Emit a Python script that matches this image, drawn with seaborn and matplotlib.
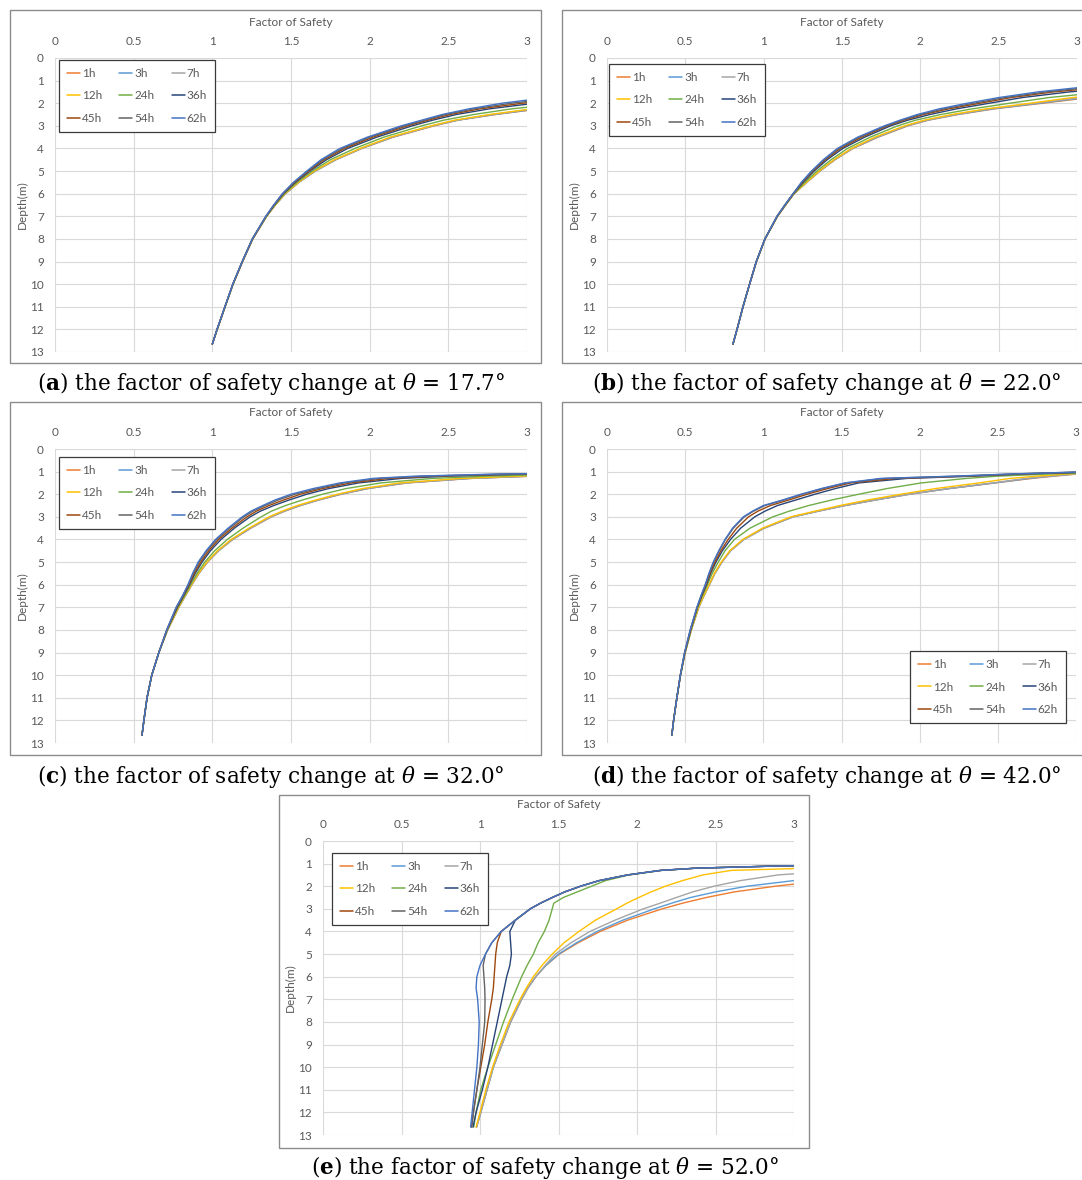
import numpy as np
import pandas as pd
import matplotlib
matplotlib.use("Agg")
import matplotlib.pyplot as plt
from matplotlib.lines import Line2D
from matplotlib.patches import Rectangle
from matplotlib.ticker import FuncFormatter
import seaborn as sns

# ---------------------------------------------------------------------------
# Data: factor of safety vs depth for each rainfall duration
# ---------------------------------------------------------------------------
HOURS = ["1h", "3h", "7h", "12h", "24h", "36h", "45h", "54h", "62h"]
COLORS = ["#ED7D31", "#5B9BD5", "#A5A5A5", "#FFC000", "#70AD47",
          "#264478", "#9E480E", "#636363", "#4472C4"]

DEPTH = [1.0, 1.1, 1.2, 1.3, 1.5, 1.75, 2.0, 2.25, 2.5, 2.75, 3.0, 3.5, 4.0,
         4.5, 5.0, 5.5, 6.0, 6.5, 7.0, 8.0, 9.0, 10.0, 11.0, 12.0, 12.65]

ANGLES = ["17.7", "22.0", "32.0", "42.0", "52.0"]

# slope angle 17.7 deg
FS_A = [
    [6.5, 6.1, 5.7, 5.35, 4.7, 4.0, 3.48, 3.08, 2.8, 2.56, 2.41, 2.15, 1.95, 1.785, 1.655, 1.55, 1.465, 1.40, 1.345, 1.257, 1.192, 1.132, 1.081, 1.031, 1.0],
    [6.5, 6.1, 5.7, 5.35, 4.7, 4.0, 3.47, 3.07, 2.79, 2.56, 2.40, 2.145, 1.948, 1.783, 1.655, 1.55, 1.465, 1.40, 1.345, 1.257, 1.192, 1.132, 1.081, 1.031, 1.0],
    [6.4, 6.0, 5.6, 5.3, 4.65, 3.95, 3.45, 3.05, 2.78, 2.55, 2.40, 2.14, 1.945, 1.78, 1.65, 1.548, 1.463, 1.40, 1.345, 1.257, 1.192, 1.132, 1.081, 1.031, 1.0],
    [6.3, 5.9, 5.5, 5.2, 4.6, 3.9, 3.42, 3.03, 2.76, 2.54, 2.39, 2.13, 1.94, 1.775, 1.648, 1.546, 1.462, 1.40, 1.345, 1.257, 1.192, 1.132, 1.081, 1.031, 1.0],
    [5.9, 5.5, 5.2, 4.9, 4.3, 3.65, 3.25, 2.90, 2.66, 2.47, 2.33, 2.09, 1.905, 1.75, 1.635, 1.537, 1.457, 1.397, 1.343, 1.256, 1.191, 1.131, 1.081, 1.031, 1.0],
    [5.4, 5.1, 4.8, 4.5, 4.0, 3.42, 3.05, 2.76, 2.55, 2.40, 2.27, 2.045, 1.86, 1.725, 1.62, 1.528, 1.452, 1.394, 1.342, 1.255, 1.191, 1.131, 1.08, 1.03, 1.0],
    [5.2, 4.9, 4.6, 4.3, 3.85, 3.32, 2.97, 2.70, 2.51, 2.37, 2.24, 2.02, 1.84, 1.71, 1.612, 1.523, 1.449, 1.392, 1.341, 1.255, 1.19, 1.13, 1.08, 1.03, 1.0],
    [5.0, 4.7, 4.4, 4.1, 3.65, 3.22, 2.90, 2.66, 2.48, 2.35, 2.22, 2.0, 1.825, 1.70, 1.605, 1.518, 1.447, 1.391, 1.34, 1.254, 1.19, 1.13, 1.08, 1.03, 1.0],
    [4.8, 4.45, 4.15, 3.9, 3.5, 3.13, 2.84, 2.63, 2.46, 2.33, 2.20, 1.985, 1.81, 1.69, 1.60, 1.515, 1.445, 1.39, 1.34, 1.254, 1.19, 1.13, 1.08, 1.03, 1.0],
]

# slope angle 22.0 deg
FS_B = [
    [5.0, 4.6, 4.3, 4.0, 3.55, 3.08, 2.78, 2.47, 2.24, 2.05, 1.92, 1.73, 1.57, 1.455, 1.36, 1.275, 1.195, 1.14, 1.088, 1.009, 0.954, 0.91, 0.868, 0.83, 0.804],
    [4.95, 4.55, 4.25, 3.95, 3.5, 3.05, 2.76, 2.46, 2.23, 2.045, 1.915, 1.725, 1.567, 1.453, 1.358, 1.274, 1.195, 1.14, 1.088, 1.009, 0.954, 0.91, 0.868, 0.83, 0.804],
    [4.9, 4.5, 4.2, 3.9, 3.45, 3.02, 2.74, 2.44, 2.22, 2.04, 1.91, 1.72, 1.565, 1.451, 1.356, 1.273, 1.194, 1.14, 1.088, 1.009, 0.954, 0.91, 0.868, 0.83, 0.804],
    [4.8, 4.4, 4.1, 3.82, 3.38, 2.97, 2.70, 2.42, 2.20, 2.025, 1.90, 1.71, 1.56, 1.448, 1.354, 1.272, 1.194, 1.14, 1.088, 1.009, 0.954, 0.91, 0.868, 0.83, 0.804],
    [4.5, 4.15, 3.85, 3.6, 3.18, 2.82, 2.57, 2.33, 2.13, 1.97, 1.855, 1.68, 1.535, 1.43, 1.34, 1.262, 1.192, 1.139, 1.087, 1.009, 0.954, 0.91, 0.868, 0.83, 0.804],
    [4.2, 3.85, 3.55, 3.3, 2.95, 2.65, 2.44, 2.23, 2.06, 1.92, 1.81, 1.645, 1.505, 1.405, 1.322, 1.252, 1.19, 1.137, 1.086, 1.008, 0.953, 0.91, 0.868, 0.83, 0.804],
    [4.05, 3.7, 3.4, 3.16, 2.85, 2.58, 2.38, 2.18, 2.02, 1.895, 1.79, 1.625, 1.49, 1.393, 1.314, 1.247, 1.189, 1.136, 1.086, 1.008, 0.953, 0.91, 0.868, 0.83, 0.804],
    [3.95, 3.6, 3.3, 3.08, 2.8, 2.54, 2.34, 2.15, 2.0, 1.88, 1.78, 1.61, 1.48, 1.386, 1.309, 1.243, 1.188, 1.135, 1.085, 1.008, 0.953, 0.91, 0.868, 0.83, 0.804],
    [3.9, 3.55, 3.25, 3.02, 2.75, 2.5, 2.3, 2.12, 1.98, 1.87, 1.77, 1.6, 1.47, 1.38, 1.305, 1.24, 1.188, 1.135, 1.085, 1.008, 0.953, 0.91, 0.868, 0.83, 0.804],
]

# slope angle 32.0 deg
FS_C = [
    [5.5, 3.6, 3.05, 2.65, 2.24, 1.99, 1.82, 1.68, 1.56, 1.46, 1.375, 1.245, 1.13, 1.04, 0.97, 0.915, 0.87, 0.828, 0.787, 0.716, 0.66, 0.615, 0.585, 0.565, 0.553],
    [5.45, 3.58, 3.03, 2.64, 2.23, 1.985, 1.815, 1.676, 1.556, 1.457, 1.372, 1.243, 1.128, 1.039, 0.969, 0.914, 0.869, 0.828, 0.787, 0.716, 0.66, 0.615, 0.585, 0.565, 0.553],
    [5.4, 3.55, 3.0, 2.62, 2.22, 1.975, 1.81, 1.672, 1.552, 1.454, 1.37, 1.241, 1.126, 1.037, 0.968, 0.913, 0.869, 0.827, 0.786, 0.716, 0.66, 0.615, 0.585, 0.565, 0.553],
    [5.3, 3.5, 2.95, 2.58, 2.19, 1.955, 1.795, 1.66, 1.54, 1.443, 1.36, 1.233, 1.12, 1.033, 0.965, 0.911, 0.868, 0.826, 0.786, 0.715, 0.66, 0.615, 0.585, 0.565, 0.553],
    [5.0, 3.3, 2.75, 2.4, 2.07, 1.85, 1.70, 1.575, 1.465, 1.375, 1.31, 1.195, 1.095, 1.015, 0.952, 0.903, 0.862, 0.822, 0.781, 0.713, 0.66, 0.615, 0.585, 0.565, 0.553],
    [4.8, 3.05, 2.5, 2.2, 1.93, 1.74, 1.6, 1.49, 1.39, 1.305, 1.24, 1.14, 1.055, 0.988, 0.935, 0.891, 0.855, 0.817, 0.777, 0.712, 0.66, 0.615, 0.585, 0.565, 0.553],
    [4.7, 2.97, 2.42, 2.12, 1.88, 1.70, 1.56, 1.455, 1.36, 1.28, 1.22, 1.125, 1.04, 0.977, 0.926, 0.885, 0.851, 0.814, 0.774, 0.711, 0.66, 0.615, 0.585, 0.565, 0.553],
    [4.6, 2.9, 2.35, 2.06, 1.84, 1.67, 1.525, 1.42, 1.335, 1.258, 1.2, 1.11, 1.028, 0.966, 0.916, 0.878, 0.847, 0.811, 0.771, 0.71, 0.66, 0.615, 0.585, 0.565, 0.553],
    [4.5, 2.85, 2.29, 2.02, 1.81, 1.64, 1.50, 1.40, 1.32, 1.245, 1.19, 1.10, 1.02, 0.96, 0.91, 0.875, 0.845, 0.81, 0.77, 0.71, 0.66, 0.615, 0.585, 0.565, 0.553],
]

# slope angle 42.0 deg
FS_D = [
    [3.55, 3.02, 2.86, 2.72, 2.48, 2.19, 1.93, 1.72, 1.52, 1.35, 1.19, 1.005, 0.875, 0.79, 0.735, 0.69, 0.655, 0.619, 0.587, 0.539, 0.5, 0.47, 0.447, 0.426, 0.415],
    [3.5, 3.0, 2.84, 2.7, 2.48, 2.19, 1.93, 1.72, 1.52, 1.35, 1.19, 1.005, 0.875, 0.79, 0.735, 0.69, 0.655, 0.619, 0.587, 0.539, 0.5, 0.47, 0.447, 0.426, 0.415],
    [3.5, 3.0, 2.83, 2.68, 2.47, 2.18, 1.94, 1.72, 1.525, 1.35, 1.19, 1.005, 0.875, 0.79, 0.735, 0.69, 0.655, 0.619, 0.587, 0.539, 0.5, 0.47, 0.447, 0.426, 0.415],
    [3.45, 2.95, 2.75, 2.58, 2.38, 2.1, 1.88, 1.67, 1.49, 1.33, 1.175, 0.995, 0.868, 0.785, 0.731, 0.687, 0.653, 0.618, 0.586, 0.539, 0.5, 0.47, 0.447, 0.426, 0.415],
    [3.3, 2.85, 2.5, 2.3, 2.01, 1.79, 1.61, 1.44, 1.29, 1.165, 1.06, 0.915, 0.815, 0.755, 0.712, 0.673, 0.642, 0.61, 0.581, 0.537, 0.499, 0.47, 0.447, 0.426, 0.415],
    [3.2, 2.68, 2.35, 1.92, 1.61, 1.46, 1.33, 1.21, 1.09, 1.01, 0.945, 0.855, 0.79, 0.738, 0.697, 0.663, 0.636, 0.606, 0.578, 0.535, 0.498, 0.47, 0.447, 0.426, 0.415],
    [3.15, 2.65, 2.3, 1.85, 1.56, 1.41, 1.28, 1.165, 1.045, 0.965, 0.905, 0.83, 0.775, 0.728, 0.69, 0.659, 0.633, 0.604, 0.577, 0.534, 0.497, 0.469, 0.447, 0.426, 0.415],
    [3.12, 2.62, 2.25, 1.78, 1.53, 1.38, 1.25, 1.135, 1.01, 0.937, 0.878, 0.808, 0.758, 0.717, 0.682, 0.654, 0.63, 0.602, 0.576, 0.533, 0.497, 0.469, 0.447, 0.426, 0.415],
    [3.1, 2.6, 2.22, 1.75, 1.52, 1.37, 1.24, 1.125, 1.0, 0.93, 0.872, 0.803, 0.755, 0.715, 0.68, 0.652, 0.628, 0.60, 0.575, 0.532, 0.496, 0.469, 0.447, 0.426, 0.415],
]

# slope angle 52.0 deg
FS_E = [
    [6.8, 5.7, 5.0, 4.5, 3.8, 3.2, 2.88, 2.62, 2.44, 2.29, 2.16, 1.94, 1.765, 1.625, 1.505, 1.42, 1.355, 1.305, 1.265, 1.195, 1.14, 1.085, 1.045, 1.005, 0.978],
    [6.5, 5.4, 4.7, 4.2, 3.5, 3.0, 2.7, 2.5, 2.34, 2.22, 2.11, 1.91, 1.745, 1.615, 1.50, 1.42, 1.355, 1.305, 1.265, 1.195, 1.14, 1.085, 1.045, 1.005, 0.978],
    [6.0, 4.6, 3.8, 3.3, 2.9, 2.66, 2.49, 2.355, 2.25, 2.147, 2.04, 1.86, 1.70, 1.58, 1.48, 1.415, 1.355, 1.305, 1.265, 1.195, 1.14, 1.085, 1.045, 1.005, 0.978],
    [5.0, 4.0, 3.1, 2.6, 2.42, 2.29, 2.18, 2.09, 2.01, 1.935, 1.87, 1.735, 1.63, 1.535, 1.46, 1.395, 1.34, 1.295, 1.255, 1.185, 1.13, 1.08, 1.037, 1.0, 0.975],
    [4.6, 2.92, 2.38, 2.16, 1.95, 1.80, 1.71, 1.62, 1.53, 1.47, 1.46, 1.44, 1.41, 1.37, 1.34, 1.30, 1.265, 1.235, 1.205, 1.15, 1.10, 1.05, 1.005, 0.975, 0.96],
    [4.6, 2.92, 2.38, 2.15, 1.94, 1.76, 1.64, 1.54, 1.46, 1.385, 1.32, 1.225, 1.19, 1.195, 1.20, 1.19, 1.17, 1.155, 1.14, 1.11, 1.08, 1.05, 1.015, 0.975, 0.955],
    [4.6, 2.92, 2.38, 2.15, 1.94, 1.76, 1.64, 1.54, 1.46, 1.385, 1.32, 1.225, 1.135, 1.11, 1.10, 1.095, 1.09, 1.085, 1.075, 1.05, 1.03, 1.005, 0.98, 0.958, 0.945],
    [4.6, 2.92, 2.38, 2.15, 1.94, 1.76, 1.64, 1.54, 1.46, 1.385, 1.32, 1.225, 1.135, 1.075, 1.035, 1.02, 1.025, 1.03, 1.032, 1.03, 1.015, 1.0, 0.98, 0.958, 0.948],
    [4.6, 2.92, 2.38, 2.15, 1.94, 1.76, 1.64, 1.54, 1.46, 1.385, 1.32, 1.225, 1.135, 1.075, 1.035, 1.0, 0.98, 0.975, 0.985, 0.995, 0.99, 0.98, 0.965, 0.95, 0.94],
]

X_TICKS = [0, 0.5, 1, 1.5, 2, 2.5, 3]
Y_TICKS = list(range(14))

# ---------------------------------------------------------------------------
# Figure layout (pixel geometry of a 1082 x 1180 canvas)
# ---------------------------------------------------------------------------
W, H = 1082, 1180
sns.set_style("white")
plt.rcParams["font.family"] = ["Lato", "DejaVu Sans"]
plt.rcParams["mathtext.fontset"] = "dejavuserif"

fig = plt.figure(figsize=(W / 100, H / 100), dpi=100)


def fx(px):
    return px / W


def fy(py):
    return 1 - py / H


TEXT_GREY = "#595959"

# per panel: data, letter, plot rect (l, t, r, b), frame rect, caption (x, baseline), legend
PANELS = [
    dict(data=FS_A, letter="a", plot=(55, 58, 527, 352), frame=(10, 10, 541, 363),
         cap=(271, 390), leg=("upper left", 59, 60)),
    dict(data=FS_B, letter="b", plot=(607, 58, 1077, 352), frame=(562, 10, 1100, 363),
         cap=(827, 390), leg=("upper left", 609, 64)),
    dict(data=FS_C, letter="c", plot=(55, 449, 527, 743), frame=(10, 402, 541, 755),
         cap=(271, 783), leg=("upper left", 59, 457)),
    dict(data=FS_D, letter="d", plot=(607, 449, 1076, 743), frame=(562, 402, 1100, 755),
         cap=(827, 783), leg=("lower right", 1066, 723)),
    dict(data=FS_E, letter="e", plot=(323, 841, 794, 1135), frame=(279, 795, 809, 1148),
         cap=(545, 1174), leg=("upper left", 332, 853)),
]

ROW_ORDER = [0, 3, 6, 1, 4, 7, 2, 5, 8]

for panel, angle in zip(PANELS, ANGLES):
    l, t, r, b = panel["plot"]
    ax = fig.add_axes([fx(l), fy(b), fx(r) - fx(l), fy(t) - fy(b)])

    df = pd.DataFrame({
        "depth": np.tile(DEPTH, len(HOURS)),
        "fs": np.concatenate(panel["data"]),
        "hour": np.repeat(HOURS, len(DEPTH)),
    })
    sns.lineplot(data=df, x="fs", y="depth", hue="hour", hue_order=HOURS,
                 palette=COLORS, sort=False, estimator=None, legend=False,
                 linewidth=1.0, ax=ax)

    ax.set_xlim(0, 3)
    ax.set_ylim(13, 0)
    ax.set_xticks(X_TICKS)
    ax.set_yticks(Y_TICKS)
    ax.xaxis.set_major_formatter(FuncFormatter(lambda v, _: f"{v:g}"))
    ax.xaxis.tick_top()
    ax.tick_params(axis="both", length=0, labelsize=8.5, colors=TEXT_GREY)
    ax.tick_params(axis="x", pad=8)
    ax.tick_params(axis="y", pad=8)
    ax.grid(True, color="#d9d9d9", linewidth=0.8)
    ax.set_axisbelow(True)
    for s in ax.spines.values():
        s.set_visible(False)
    ax.set_xlabel("")
    ax.set_ylabel("")

    # axis titles
    fig.text(fx((l + r) / 2), fy(t - 36), "Factor of Safety", ha="center",
             va="center", fontsize=8.5, color=TEXT_GREY)
    fig.text(fx(l - 33), fy((t + b) / 2), "Depth(m)", ha="center", va="center",
             rotation=90, fontsize=8.5, color=TEXT_GREY)

    # legend in three columns, filled row by row
    handles = [Line2D([0], [0], color=c, lw=1.1) for c in COLORS]
    loc, lx, ly = panel["leg"]
    leg = ax.legend([handles[i] for i in ROW_ORDER], [HOURS[i] for i in ROW_ORDER],
                    ncol=3, loc=loc, bbox_to_anchor=(fx(lx), fy(ly)),
                    bbox_transform=fig.transFigure, frameon=True, fancybox=False,
                    edgecolor="#3a3a3a", framealpha=1, fontsize=8.5,
                    labelcolor=TEXT_GREY, handlelength=1.1, handletextpad=0.15,
                    columnspacing=1.45, borderpad=0.7, labelspacing=0.95,
                    borderaxespad=0)
    leg.get_frame().set_linewidth(0.9)

    # panel frame
    fl, ft, fr, fb = panel["frame"]
    fig.add_artist(Rectangle((fx(fl), fy(fb)), fx(fr) - fx(fl), fy(ft) - fy(fb),
                             transform=fig.transFigure, fill=False,
                             edgecolor="#8c8c8c", linewidth=1.0))

    # caption
    cx, cy = panel["cap"]
    fig.text(fx(cx), fy(cy),
             rf"($\mathbf{{{panel['letter']}}}$) the factor of safety change at $\theta$ = {angle}°",
             ha="center", va="baseline", fontsize=15.5, family="DejaVu Serif",
             color="black")

fig.savefig("out.png", dpi=100)
